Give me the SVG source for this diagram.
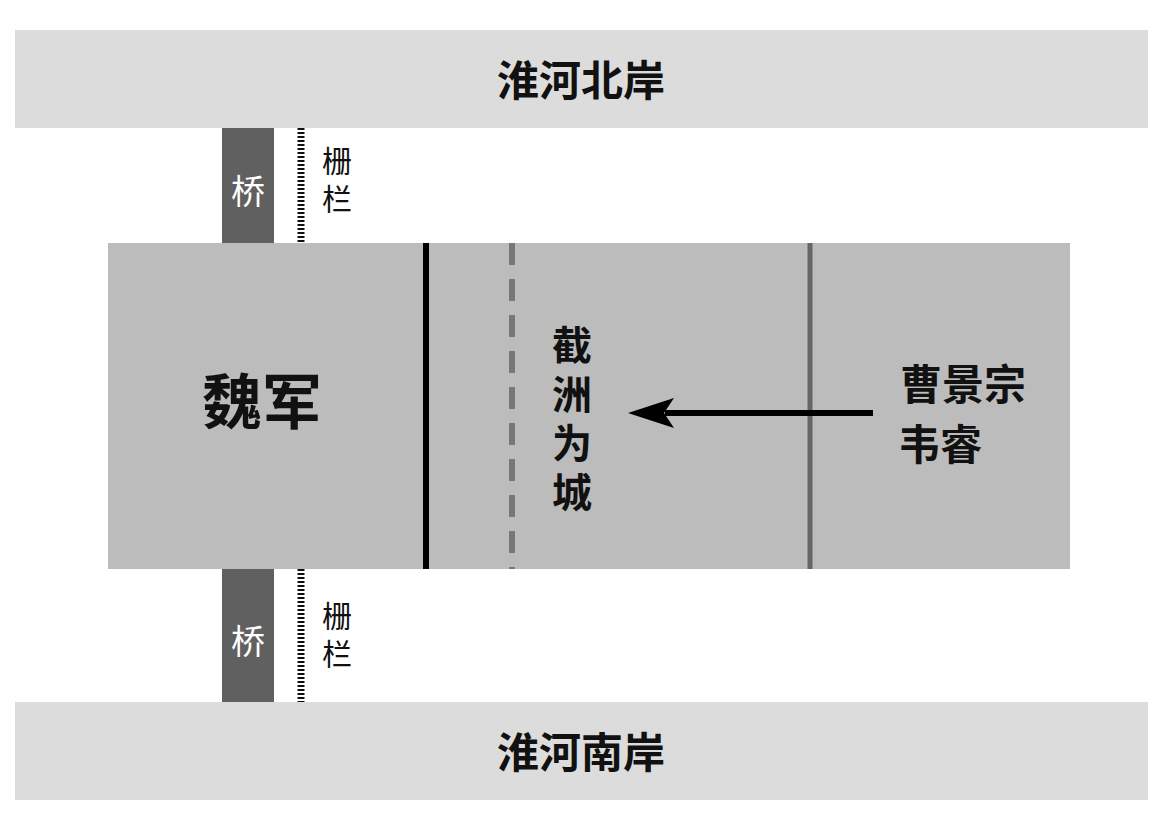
<svg xmlns="http://www.w3.org/2000/svg" width="1167" height="822" viewBox="0 0 1167 822">
<style>
.bank{fill:#dcdcdc}
.bridge{fill:#606060}
.big{font-family:"Noto Sans CJK SC",sans-serif;font-weight:bold;fill:#111}
.small{font-family:"Noto Sans CJK SC",sans-serif;fill:#111;font-size:30px}
.fence{stroke:#111;stroke-width:7;stroke-dasharray:2 2}
</style>
<rect width="1167" height="822" fill="#fff"/>
<g id="north"><rect class="bank" x="15" y="30" width="1133" height="98"/><text class="big" x="581" y="96" font-size="42" text-anchor="middle">淮河北岸</text></g>
<g id="south"><rect class="bank" x="15" y="702" width="1133" height="98"/><text class="big" x="581" y="768" font-size="42" text-anchor="middle">淮河南岸</text></g>
<g id="island"><rect x="108" y="243" width="962" height="326" fill="#bcbcbc"/><text class="big" x="262" y="424" font-size="60" text-anchor="middle">魏军</text></g>
<g id="bridge1"><rect class="bridge" x="222" y="128" width="52" height="115"/><text x="248" y="204" font-size="34" fill="#fff" text-anchor="middle" font-family="Noto Sans CJK SC,sans-serif">桥</text></g>
<g id="bridge2"><rect class="bridge" x="222" y="569" width="52" height="133"/><text x="248" y="654" font-size="34" fill="#fff" text-anchor="middle" font-family="Noto Sans CJK SC,sans-serif">桥</text></g>
<g id="fence1"><line class="fence" x1="301" y1="128" x2="301" y2="243"/><text class="small" x="322" y="172">栅</text><text class="small" x="322" y="210">栏</text></g>
<g id="fence2"><line class="fence" x1="301" y1="569" x2="301" y2="702"/><text class="small" x="322" y="627">栅</text><text class="small" x="322" y="665">栏</text></g>
<g id="city"><text class="big" font-size="40" x="572" y="325" writing-mode="vertical-rl" letter-spacing="9">截洲为城</text></g>
<g id="enemy"><text class="big" font-size="42" x="963" y="400" text-anchor="middle">曹景宗</text><text class="big" font-size="42" x="940" y="460" text-anchor="middle">韦睿</text></g>
<g id="connectors">
<line x1="426" y1="243" x2="426" y2="569" stroke="#000" stroke-width="6"/>
<line x1="512" y1="243" x2="512" y2="569" stroke="#777" stroke-width="6" stroke-dasharray="22 14"/>
<line x1="810" y1="243" x2="810" y2="569" stroke="#666" stroke-width="5"/>
<line x1="873" y1="413" x2="665" y2="413" stroke="#000" stroke-width="6"/>
<path d="M628,413 L674,398 L664,413 L674,428 Z" fill="#000"/>
</g>
</svg>
